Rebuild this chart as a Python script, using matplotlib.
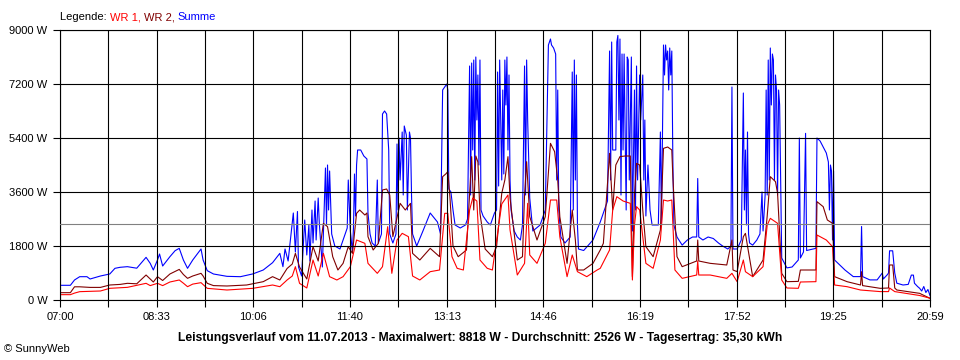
import matplotlib
matplotlib.use('Agg')
import matplotlib.pyplot as plt
import numpy as np
from matplotlib.offsetbox import TextArea, HPacker, AnnotationBbox

plt.rcParams['font.family'] = ['Liberation Sans', 'DejaVu Sans']

# time in minutes after 07:00, power in W
summe_t = [0, 10, 14, 19, 26, 29, 39, 48, 53, 58, 65, 74, 83, 87, 90, 94, 96, 99, 106, 111,
           115, 119, 123, 128, 136, 138, 142, 148, 161, 174, 186, 196, 205, 212, 215, 217, 220, 225, 227, 229,
           230, 233, 236, 238, 240, 241, 243, 244, 246, 247, 249, 250, 253, 256, 257, 258, 259, 260, 262, 265,
           270, 273, 277, 278, 280, 282, 283, 284, 285, 286, 287, 290, 293, 296, 297, 299, 301, 304, 306, 307,
           310, 311, 313, 315, 317, 318, 321, 324, 325, 326, 327, 328, 330, 331, 332, 334, 335, 337, 338, 339,
           340, 344, 350, 357, 364, 367, 369, 371, 373, 374, 375, 377, 379, 381, 386, 391, 393, 395, 396, 397,
           398, 399, 400, 401, 402, 403, 404, 405, 406, 408, 412, 415, 419, 421, 422, 423, 424, 426, 427, 428,
           429, 430, 431, 432, 433, 434, 435, 438, 441, 444, 446, 448, 449, 450, 451, 453, 456, 463, 468, 471,
           473, 474, 476, 478, 479, 480, 481, 483, 487, 492, 494, 495, 496, 497, 498, 499, 500, 505, 514, 521,
           528, 530, 531, 532, 533, 536, 537, 538, 539, 540, 541, 542, 543, 544, 546, 547, 548, 549, 551, 552,
           554, 555, 556, 557, 559, 560, 562, 563, 564, 565, 567, 569, 571, 577, 579, 580, 582, 583, 584, 585,
           586, 587, 588, 589, 590, 591, 592, 595, 600, 605, 610, 614, 615, 616, 620, 625, 630, 635, 639, 644,
           647, 648, 649, 653, 657, 659, 660, 661, 662, 663, 664, 665, 668, 672, 675, 677, 678, 680, 681, 682,
           683, 684, 685, 686, 687, 688, 689, 690, 691, 692, 693, 694, 696, 701, 706, 712, 713, 714, 717, 719,
           720, 729, 730, 733, 736, 739, 741, 742, 743, 744, 745, 746, 747, 752, 757, 765, 772, 773, 774, 781,
           788, 793, 794, 798, 799, 800, 803, 805, 807, 813, 818, 821, 823, 824, 827, 829, 831, 833, 835, 837,
           839]
summe_w = [490, 490, 667, 777, 777, 700, 800, 867, 1056, 1090, 1111, 1060, 1422, 1222, 1000, 1333, 1533, 1133, 1444, 1644,
           1722, 1333, 1056, 1333, 1700, 1333, 978, 867, 789, 777, 870, 1000, 1244, 1555, 1111, 1700, 1300, 2900, 1600, 2950,
           1100, 800, 2667, 1500, 2500, 1300, 3000, 1900, 3300, 2000, 3400, 2600, 1100, 4400, 2500, 4500, 3000, 4300, 2200, 1800,
           1700, 2000, 2400, 4000, 2300, 1600, 2400, 4200, 2800, 4500, 5000, 5000, 4800, 4700, 2900, 2200, 1900, 1800, 4000, 1900,
           2200, 6200, 6300, 6200, 5000, 2200, 1900, 2200, 5200, 3000, 5400, 4000, 5600, 3500, 5800, 5500, 3000, 5600, 5400, 3500,
           2200, 1800, 2300, 2900, 2600, 2200, 7000, 7100, 7200, 7000, 3700, 3600, 3000, 2500, 2400, 2500, 2700, 7800, 3500, 7900,
           5000, 8000, 4000, 8100, 6000, 7500, 4500, 8000, 3000, 2800, 2600, 2500, 2900, 3000, 7600, 3800, 8000, 4000, 7000, 4200,
           8000, 6500, 8100, 5000, 7500, 4000, 3000, 2300, 2100, 2000, 2500, 7800, 3500, 8000, 6000, 3400, 2300, 2500, 3000, 8500,
           8700, 8500, 8400, 8200, 4000, 7000, 3000, 2100, 1900, 2100, 7600, 3000, 8000, 4000, 7500, 2500, 1700, 1650, 2000, 2600,
           3300, 8300, 4000, 8600, 5000, 5000, 8600, 8818, 6000, 8700, 3500, 8200, 5000, 8200, 3000, 8100, 8000, 4000, 8100, 2300,
           7000, 3000, 7800, 4000, 7500, 6000, 7500, 4000, 6000, 2800, 4500, 3000, 2500, 2500, 5600, 2500, 8500, 7500, 8500, 8000,
           8300, 7000, 8400, 7500, 8300, 4700, 2500, 2100, 1830, 2000, 2100, 2100, 4050, 2100, 2000, 2100, 2050, 1900, 1800, 1700,
           1800, 7100, 1700, 1700, 2000, 6900, 3000, 5000, 2500, 5600, 2200, 1900, 1830, 2000, 2200, 3600, 2300, 3500, 7000, 3500,
           8000, 4000, 8400, 6500, 8200, 8000, 4000, 7500, 7000, 3500, 7000, 6500, 1400, 1070, 1100, 1333, 5400, 1400, 1600, 5555,
           1650, 1722, 5400, 5300, 5100, 4900, 4600, 3000, 4500, 4300, 2000, 4300, 1333, 1167, 1000, 780, 780, 2450, 780, 670,
           670, 900, 700, 850, 900, 1640, 1640, 900, 560, 500, 520, 830, 830, 560, 450, 390, 300, 450, 250, 350,
           150]

wr2_t = [0, 10, 14, 19, 29, 39, 48, 58, 65, 74, 83, 87, 90, 94, 99, 106, 111, 115, 119, 123,
         128, 136, 138, 142, 148, 161, 180, 196, 205, 212, 219, 224, 227, 231, 238, 244, 249, 254, 258, 263,
         268, 273, 278, 282, 286, 289, 294, 296, 297, 302, 307, 311, 315, 318, 321, 328, 333, 338, 340, 347,
         357, 366, 369, 372, 374, 376, 379, 384, 392, 395, 397, 399, 401, 403, 405, 410, 417, 421, 426, 429,
         432, 434, 441, 446, 448, 450, 453, 460, 468, 473, 477, 480, 482, 489, 494, 497, 499, 505, 514, 521,
         524, 530, 533, 536, 540, 545, 550, 552, 554, 556, 559, 562, 565, 572, 579, 582, 586, 590, 591, 595,
         600, 614, 615, 616, 627, 643, 648, 649, 653, 659, 661, 663, 668, 678, 682, 685, 690, 692, 696, 701,
         712, 714, 729, 730, 736, 740, 745, 747, 759, 772, 773, 774, 791, 799, 800, 803, 805, 807, 829, 839]
wr2_w = [244, 244, 440, 440, 420, 420, 500, 520, 556, 540, 833, 700, 600, 778, 650, 867, 950, 1020, 850, 722,
         800, 889, 800, 556, 480, 467, 500, 611, 778, 667, 1050, 1200, 1555, 1100, 700, 1778, 1300, 2555, 2444, 1444,
         1000, 1222, 1778, 1555, 2889, 3000, 2833, 2900, 2111, 1667, 1889, 3667, 3700, 3500, 2111, 3222, 3000, 3222, 1555, 1333,
         1722, 1444, 4111, 4200, 4278, 3444, 1800, 1444, 1667, 3500, 4778, 3000, 4800, 4600, 2889, 1700, 1444, 1778, 3556, 4000,
         4778, 3400, 1333, 1444, 3500, 4611, 2778, 2000, 2778, 5222, 4944, 4000, 2778, 1222, 3000, 2000, 1000, 1000, 1222, 1667,
         1889, 4889, 3000, 4500, 4780, 4800, 4800, 778, 3500, 4555, 4500, 3000, 1778, 1444, 2333, 5055, 5100, 5000, 4111, 1444,
         1111, 1300, 2000, 1300, 1222, 1167, 2000, 1000, 944, 2111, 2222, 1800, 778, 1333, 2800, 4111, 3944, 3556, 889, 611,
         620, 1000, 1000, 3278, 3111, 2667, 2556, 778, 611, 500, 944, 480, 389, 400, 1167, 1167, 400, 333, 222, 56]

wr1_t = [0, 10, 14, 19, 39, 48, 65, 83, 87, 94, 99, 106, 115, 119, 123, 128, 136, 142, 161, 186,
         205, 212, 219, 224, 227, 231, 238, 244, 249, 254, 260, 267, 273, 280, 286, 294, 297, 306, 311, 316,
         320, 325, 330, 336, 340, 347, 357, 366, 371, 374, 378, 383, 389, 395, 398, 402, 405, 412, 417, 426,
         432, 434, 441, 448, 451, 453, 460, 468, 473, 479, 482, 489, 494, 499, 508, 518, 521, 530, 533, 537,
         543, 550, 552, 554, 556, 559, 565, 572, 579, 582, 586, 590, 593, 600, 614, 615, 616, 627, 643, 648,
         653, 659, 661, 668, 678, 682, 685, 692, 696, 701, 712, 714, 729, 730, 739, 745, 747, 759, 772, 791,
         799, 800, 805, 816, 829, 839]
wr1_w = [178, 178, 230, 278, 300, 389, 422, 556, 480, 556, 480, 600, 667, 560, 444, 530, 578, 389, 333, 389,
         500, 444, 667, 800, 1111, 555, 400, 1333, 800, 1555, 778, 667, 778, 1111, 2000, 1889, 1222, 889, 1111, 2444,
         889, 2000, 2222, 2111, 800, 667, 944, 1000, 2889, 2889, 1444, 1056, 1000, 3000, 3400, 3300, 1333, 1056, 1000, 3200,
         3500, 2333, 833, 1222, 3222, 1500, 1222, 1889, 3333, 3333, 2111, 778, 1500, 944, 778, 1000, 1056, 1667, 3000, 3444,
         3300, 3222, 667, 2500, 3111, 3000, 1222, 1056, 2000, 3333, 3300, 3333, 1000, 722, 833, 1300, 833, 833, 722, 889,
         611, 1333, 944, 778, 1111, 2500, 2722, 2556, 667, 400, 390, 600, 611, 2167, 2000, 1778, 500, 444, 333, 280,
         280, 400, 280, 220, 150, 60]

tick_labels = ['07:00', '08:33', '10:06', '11:40', '13:13', '14:46', '16:19', '17:52', '19:25', '20:59']
y_ticks = [0, 1800, 3600, 5400, 7200, 9000]
avg_w = 2526
title = ('Leistungsverlauf vom 11.07.2013 - Maximalwert: 8818 W - '
         'Durchschnitt: 2526 W - Tagesertrag: 35,30 kWh')

fig = plt.figure(figsize=(9.6, 3.6), dpi=100)
ax = fig.add_axes([60/960, 60/360, 870/960, 270/360])

ax.plot(summe_t, summe_w, color='#0000ff', lw=0.8, zorder=2)
ax.plot(wr2_t, wr2_w, color='#800000', lw=0.8, zorder=3)
ax.plot(wr1_t, wr1_w, color='#ff0000', lw=0.8, zorder=4)

# grid on top of the curves, like the original
xt = np.linspace(0, 839, 19)
for x in xt:
    ax.axvline(x, color='black', lw=0.8, zorder=5)
for y in y_ticks:
    ax.axhline(y, color='black', lw=0.8, zorder=5)
ax.axhline(avg_w, color='#808080', lw=0.8, zorder=6)

ax.set_xlim(0, 839)
ax.set_ylim(0, 9000)
ax.set_xticks(xt)
ax.set_xticklabels([tick_labels[i // 2] if i % 2 == 0 else '' for i in range(19)])
ax.set_yticks(y_ticks)
ax.set_yticklabels(['%d W' % v for v in y_ticks])
ax.tick_params(direction='out', length=5, width=0.8, color='black', labelsize=8, pad=4)
for s in ax.spines.values():
    s.set_color('black')
    s.set_linewidth(0.8)

# coloured legend line
parts = [TextArea('Legende: ', textprops=dict(color='black', size=8)),
         TextArea('WR 1, ', textprops=dict(color='#ff0000', size=8)),
         TextArea('WR 2, ', textprops=dict(color='#800000', size=8)),
         TextArea('Summe', textprops=dict(color='#0000ff', size=8))]
box = HPacker(children=parts, align='baseline', pad=0, sep=0)
ab = AnnotationBbox(box, (60/960, 1 - 17/360), xycoords='figure fraction',
                    box_alignment=(0, 0.5), frameon=False)
fig.add_artist(ab)

fig.text(480/960, 1 - 338/360, title, ha='center', va='center', fontsize=8.7, fontweight='bold')
fig.text(4/960, 1 - 349/360, '\u00a9 SunnyWeb', ha='left', va='center', fontsize=8)

plt.savefig('out.png', dpi=100)
